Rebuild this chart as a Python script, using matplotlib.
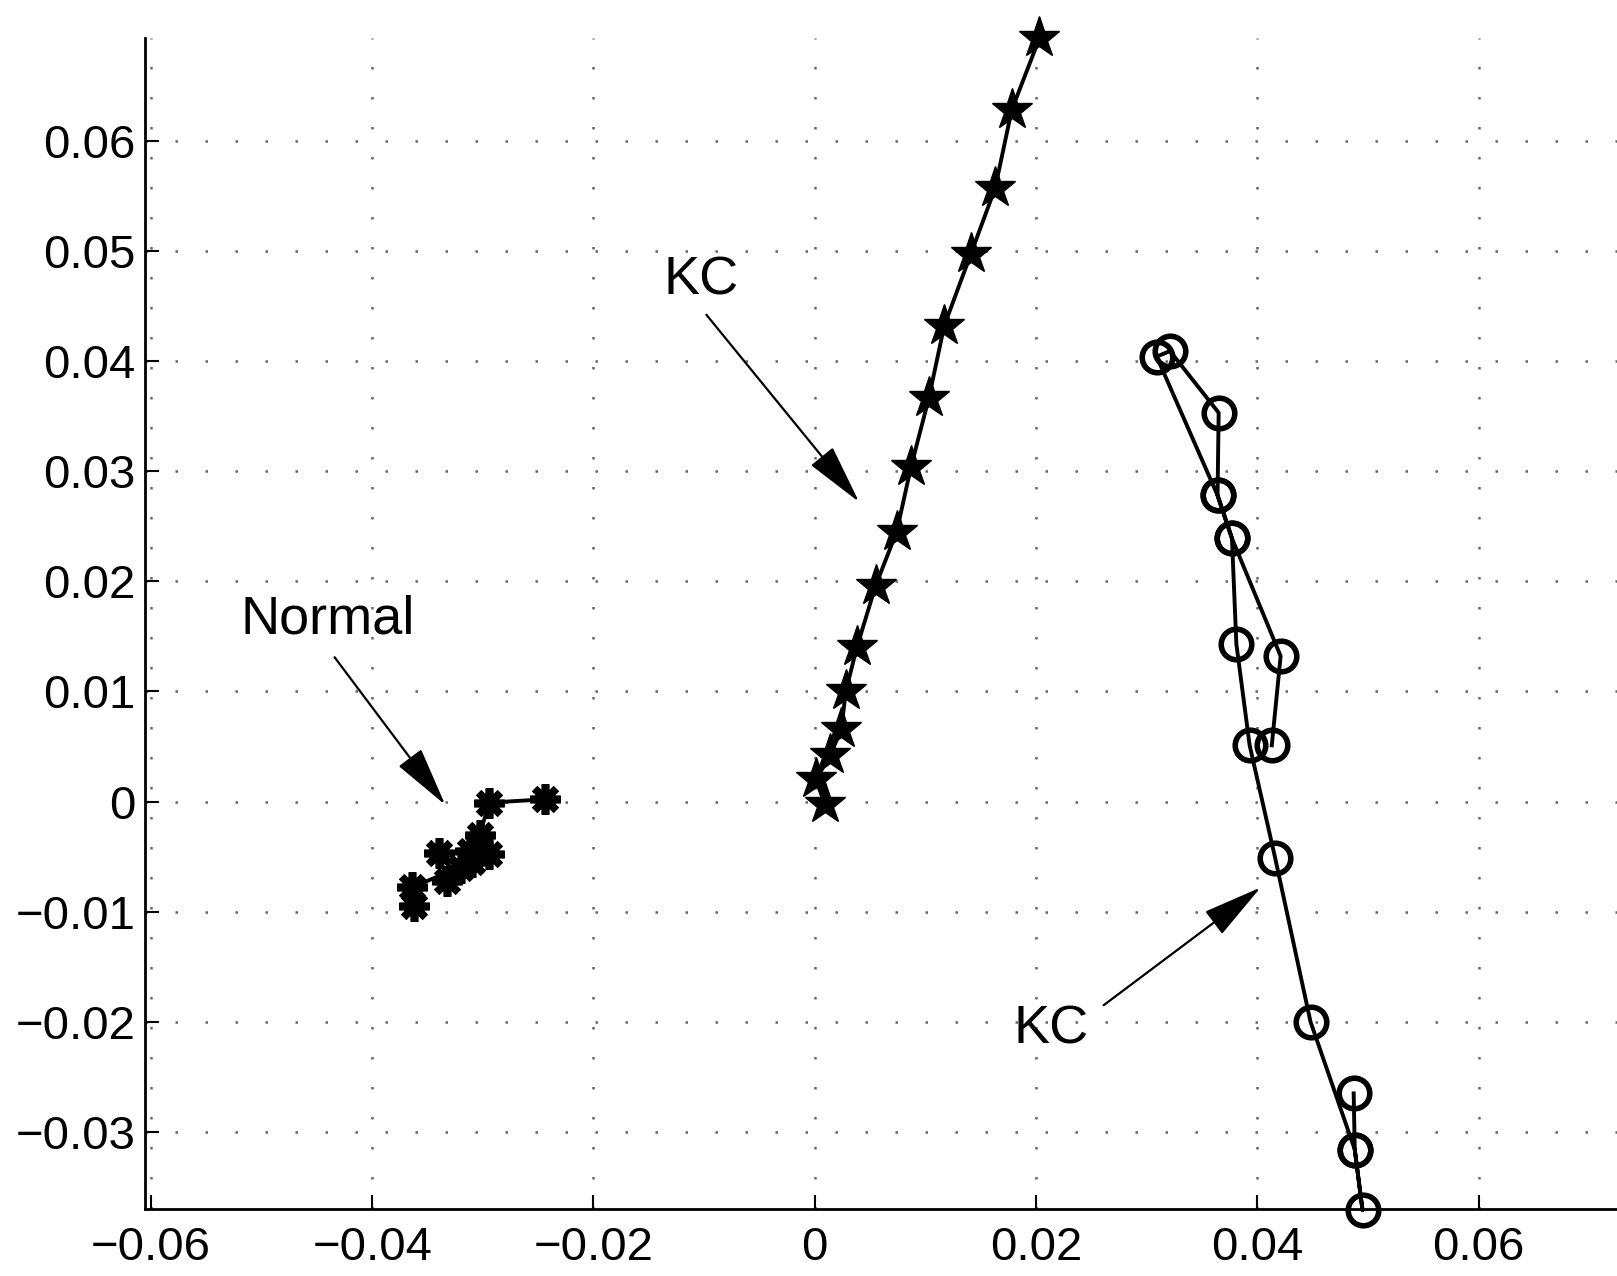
import matplotlib
matplotlib.use("Agg")
import matplotlib.pyplot as plt
import numpy as np

plt.rcParams["font.family"] = ["Liberation Sans", "DejaVu Sans"]

# KC (stars)
kc_star_x = [0.0203, 0.0178, 0.0163, 0.0141, 0.0117, 0.0103, 0.0087, 0.0074,
             0.0055, 0.0038, 0.0028, 0.0024, 0.0014, 0.0001, 0.0009]
kc_star_y = [0.0693, 0.0628, 0.0557, 0.0497, 0.0432, 0.0366, 0.0304, 0.0245,
             0.0196, 0.0140, 0.0100, 0.0066, 0.0042, 0.0020, -0.0002]

# KC (circles)
kc_circ_x = [0.0487, 0.0488, 0.0495, 0.0488, 0.0448, 0.0416, 0.0393, 0.0381,
             0.0377, 0.0364, 0.0309, 0.0321, 0.0365, 0.0364, 0.0377, 0.0421,
             0.0413]
kc_circ_y = [-0.0265, -0.0316, -0.0371, -0.0316, -0.0200, -0.0051, 0.0051,
             0.0143, 0.0239, 0.0278, 0.0404, 0.0409, 0.0353, 0.0278, 0.0239,
             0.0132, 0.0051]

# Normal (asterisks)
norm_x = [-0.0244, -0.0294, -0.0303, -0.0294, -0.0312, -0.0320, -0.0340,
          -0.0332, -0.0310, -0.0364, -0.0362]
norm_y = [0.0002, -0.0001, -0.0030, -0.0048, -0.0045, -0.0060, -0.0047,
          -0.0072, -0.0055, -0.0078, -0.0095]

xticks = [-0.06, -0.04, -0.02, 0, 0.02, 0.04, 0.06]
xticklabels = ["\u22120.06", "\u22120.04", "\u22120.02", "0", "0.02", "0.04", "0.06"]
yticks = [-0.03, -0.02, -0.01, 0, 0.01, 0.02, 0.03, 0.04, 0.05, 0.06]
yticklabels = ["\u22120.03", "\u22120.02", "\u22120.01", "0", "0.01", "0.02",
               "0.03", "0.04", "0.05", "0.06"]

fig = plt.figure(figsize=(16.17, 12.76), dpi=100)
ax = fig.add_axes([0.0899, 0.0525, 0.9101, 0.9175])

ax.plot(kc_star_x, kc_star_y, "k-", lw=2.8, marker="*", ms=31,
        markerfacecolor="k", markeredgecolor="k", clip_on=False)
ax.plot(kc_circ_x, kc_circ_y, "k-", lw=2.8, marker="o", ms=22,
        markerfacecolor="none", markeredgecolor="k", markeredgewidth=4,
        clip_on=False)
ax.plot(norm_x, norm_y, "k-", lw=2.8, marker=(8, 2, 0), ms=22,
        markeredgecolor="k", markeredgewidth=5.5, clip_on=False)

ax.set_xlim(-0.0605, 0.0725)
ax.set_ylim(-0.0370, 0.0693)
ax.set_xticks(xticks)
ax.set_xticklabels(xticklabels)
ax.set_yticks(yticks)
ax.set_yticklabels(yticklabels)
ax.tick_params(direction="in", length=10, width=1.5, labelsize=34, pad=12)
ax.tick_params(axis="y", pad=7)

ax.grid(True, linestyle=(0, (1, 11)), color="0.4", lw=1.8)
for s in ["top", "right"]:
    ax.spines[s].set_visible(False)
for s in ["left", "bottom"]:
    ax.spines[s].set_linewidth(2)

arrow = dict(arrowstyle="-|>,head_length=1.9,head_width=0.45",
             color="k", lw=1.6, mutation_scale=20, shrinkA=0, shrinkB=0)
ax.annotate("", xy=(0.0040, 0.0272), xytext=(-0.0098, 0.0442), arrowprops=arrow)
ax.text(-0.0103, 0.0473, "KC", fontsize=39, ha="center", va="center")
ax.annotate("", xy=(-0.0334, -0.0003), xytext=(-0.0434, 0.0131), arrowprops=arrow)
ax.text(-0.0440, 0.0165, "Normal", fontsize=39, ha="center", va="center")
ax.annotate("", xy=(0.0403, -0.0078), xytext=(0.0261, -0.0185), arrowprops=arrow)
ax.text(0.0214, -0.0207, "KC", fontsize=39, ha="center", va="center")

fig.savefig("out.png", dpi=100)
